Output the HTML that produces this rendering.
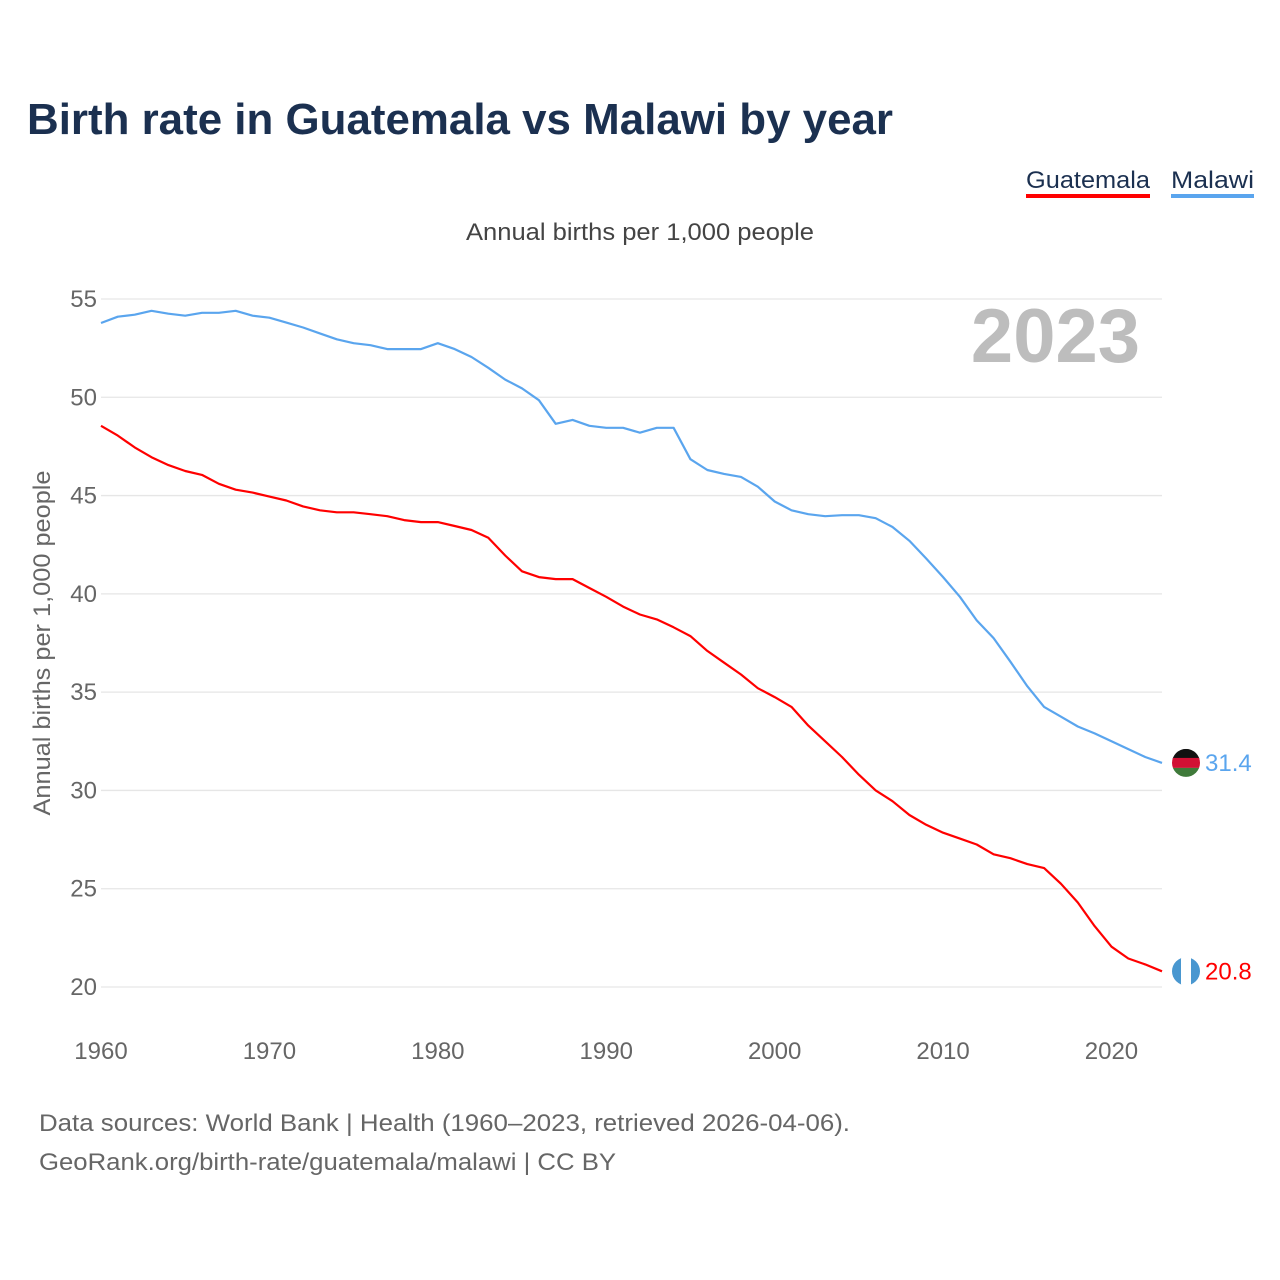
<!DOCTYPE html>
<html><head><meta charset="utf-8"><style>
body{margin:0;background:#fff;font-family:"Liberation Sans",sans-serif;}
#wrap{position:relative;width:1280px;height:1280px;overflow:hidden;}
</style></head><body>
<div id="wrap">
<svg id="chart" width="1280" height="1280"></svg>
</div>
<script>
const years = [];
for (let y = 1960; y <= 2023; y++) years.push(y);
const guatemala = [48.55,48.05,47.45,46.95,46.55,46.25,46.05,45.6,45.3,45.15,44.95,44.75,44.45,44.25,44.15,44.15,44.05,43.95,43.75,43.65,43.65,43.45,43.25,42.85,41.95,41.15,40.85,40.75,40.75,40.3,39.85,39.35,38.95,38.7,38.3,37.85,37.1,36.5,35.9,35.2,34.75,34.25,33.3,32.5,31.7,30.8,30.0,29.45,28.75,28.25,27.85,27.55,27.25,26.75,26.55,26.25,26.05,25.25,24.3,23.1,22.05,21.45,21.15,20.8];
const malawi = [53.78,54.1,54.2,54.4,54.25,54.15,54.3,54.3,54.4,54.15,54.05,53.8,53.55,53.25,52.95,52.75,52.65,52.45,52.45,52.45,52.75,52.45,52.05,51.5,50.9,50.45,49.85,48.65,48.85,48.55,48.45,48.45,48.2,48.45,48.45,46.85,46.3,46.1,45.95,45.45,44.7,44.25,44.05,43.95,44.0,44.0,43.85,43.4,42.7,41.8,40.85,39.85,38.65,37.75,36.55,35.3,34.25,33.75,33.25,32.9,32.5,32.1,31.7,31.4];
const yTicks = [20,25,30,35,40,45,50,55];
const xTicks = [1960,1970,1980,1990,2000,2010,2020];

const NS = "http://www.w3.org/2000/svg";
const svg = document.getElementById('chart');
const X0 = 101, X1 = 1162, Y20 = 987, Y55 = 299;
function xs(y){ return X0 + (y - 1960) * (X1 - X0) / (2023 - 1960); }
function ys(v){ return Y20 - (v - 20) * (Y20 - Y55) / 35; }
function mk(tag, attrs, text){
  const e = document.createElementNS(NS, tag);
  for (const k in attrs) e.setAttribute(k, attrs[k]);
  if (text !== undefined) e.textContent = text;
  svg.appendChild(e);
  return e;
}
let t;
t = mk('text',{x:27,y:134,'font-size':44,'font-weight':'bold',fill:'#1b3050',textLength:866,lengthAdjust:'spacingAndGlyphs'},'Birth rate in Guatemala vs Malawi by year');


t = mk('text',{x:1026,y:188,'font-size':24,fill:'#1b3050',textLength:124,lengthAdjust:'spacingAndGlyphs'},'Guatemala');


t = mk('rect',{x:1026,y:194,width:124,height:4,fill:'#ff0000'});


t = mk('text',{x:1171,y:188,'font-size':24,fill:'#1b3050',textLength:83,lengthAdjust:'spacingAndGlyphs'},'Malawi');


t = mk('rect',{x:1171,y:194,width:83,height:4,fill:'#5aa5ee'});


t = mk('text',{x:466,y:240,'font-size':24,fill:'#444',textLength:348,lengthAdjust:'spacingAndGlyphs'},'Annual births per 1,000 people');


t = mk('text',{x:0,y:0,'font-size':24,fill:'#666','text-anchor':'middle',textLength:345,lengthAdjust:'spacingAndGlyphs',transform:'translate(50,643) rotate(-90)'},'Annual births per 1,000 people');


t = mk('text',{x:1140,y:362,'font-size':76,'font-weight':'bold',fill:'#bdbdbd','text-anchor':'end'},'2023');



yTicks.forEach(v=>{
  const g = mk('line',{x1:101,x2:1162,y1:ys(v),y2:ys(v),stroke:'#e6e6e6','stroke-width':1.3});
  
  
  const l = mk('text',{x:97,y:ys(v)+8,'font-size':24,fill:'#666','text-anchor':'end'},String(v));
  
  
});
xTicks.forEach(v=>{
  const l = mk('text',{x:xs(v),y:1059,'font-size':24,fill:'#666','text-anchor':'middle'},String(v));
  
  
});
function line(data,color,name){
  const d = data.map((v,i)=>(i?'L':'M')+xs(years[i]).toFixed(1)+','+ys(v).toFixed(1)).join(' ');
  const p = mk('path',{d:d,fill:'none',stroke:color,'stroke-width':2.2,'stroke-linejoin':'round'});
  
  
}
line(malawi,'#5aa5ee','malawi-line');
line(guatemala,'#ff0000','guatemala-line');

const mv = malawi[malawi.length-1], gv = guatemala[guatemala.length-1];
const my = ys(mv), gy = ys(gv), cx = 1186;
let c;
c = mk('clipPath',{id:'mclip'});
const cc = document.createElementNS(NS,'circle'); cc.setAttribute('cx',cx); cc.setAttribute('cy',my); cc.setAttribute('r',14); c.appendChild(cc);
c = mk('g',{'clip-path':'url(#mclip)'});


[['#111',my-14],['#d21034',my-5],['#3f7a3a',my+5]].forEach(([f,y0])=>{
  const r=document.createElementNS(NS,'rect');r.setAttribute('x',cx-14);r.setAttribute('y',y0);r.setAttribute('width',28);r.setAttribute('height',10);r.setAttribute('fill',f);c.appendChild(r);
});
c = mk('clipPath',{id:'gclip'});
const gc = document.createElementNS(NS,'circle'); gc.setAttribute('cx',cx); gc.setAttribute('cy',gy); gc.setAttribute('r',14); c.appendChild(gc);
c = mk('g',{'clip-path':'url(#gclip)'});


[['#4997d0',cx-14],['#ffffff',cx-5],['#4997d0',cx+5]].forEach(([f,x0])=>{
  const r=document.createElementNS(NS,'rect');r.setAttribute('x',x0);r.setAttribute('y',gy-14);r.setAttribute('width',10);r.setAttribute('height',28);r.setAttribute('fill',f);c.appendChild(r);
});
t = mk('text',{x:1205,y:my+8,'font-size':24,fill:'#5aa5ee'},mv.toFixed(1));


t = mk('text',{x:1205,y:gy+8,'font-size':24,fill:'#ff0000'},gv.toFixed(1));



t = mk('text',{x:39,y:1131,'font-size':24,fill:'#666',textLength:811,lengthAdjust:'spacingAndGlyphs'},'Data sources: World Bank | Health (1960–2023, retrieved 2026-04-06).');


t = mk('text',{x:39,y:1170,'font-size':24,fill:'#666',textLength:577,lengthAdjust:'spacingAndGlyphs'},'GeoRank.org/birth-rate/guatemala/malawi | CC BY');


</script>
</body></html>
